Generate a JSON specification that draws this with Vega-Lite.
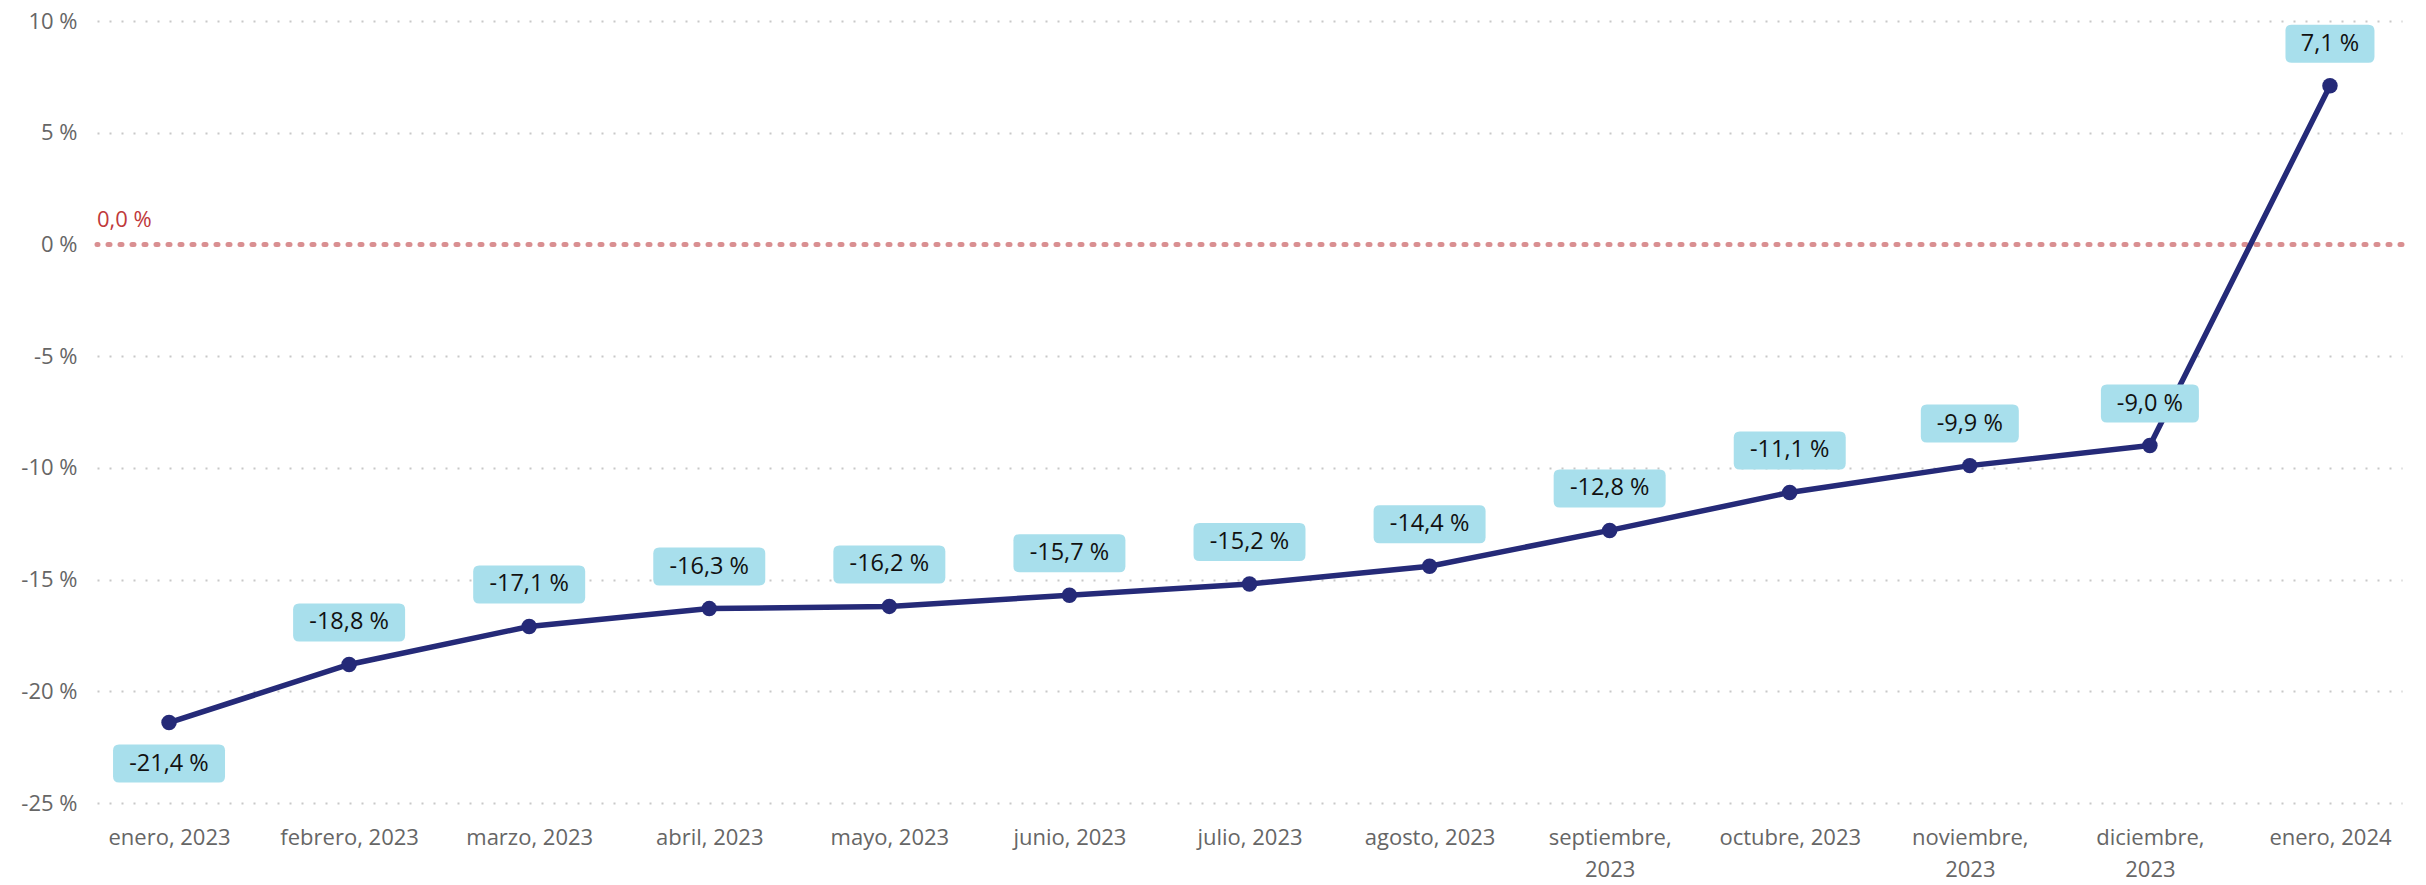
{
  "$schema": "https://vega.github.io/schema/vega-lite/v6.json",
  "autosize": "none",
  "width": 2305,
  "height": 782,
  "padding": {"left": 97, "top": 21, "right": 24, "bottom": 82},
  "background": "white",
  "config": {
    "view": {"stroke": null},
    "font": "Open Sans"
  },
  "data": {
    "values": [
      {"mes": "enero, 2023", "valor": -21.4, "etiqueta": "-21,4 %"},
      {"mes": "febrero, 2023", "valor": -18.8, "etiqueta": "-18,8 %"},
      {"mes": "marzo, 2023", "valor": -17.1, "etiqueta": "-17,1 %"},
      {"mes": "abril, 2023", "valor": -16.3, "etiqueta": "-16,3 %"},
      {"mes": "mayo, 2023", "valor": -16.2, "etiqueta": "-16,2 %"},
      {"mes": "junio, 2023", "valor": -15.7, "etiqueta": "-15,7 %"},
      {"mes": "julio, 2023", "valor": -15.2, "etiqueta": "-15,2 %"},
      {"mes": "agosto, 2023", "valor": -14.4, "etiqueta": "-14,4 %"},
      {"mes": "septiembre, 2023", "valor": -12.8, "etiqueta": "-12,8 %"},
      {"mes": "octubre, 2023", "valor": -11.1, "etiqueta": "-11,1 %"},
      {"mes": "noviembre, 2023", "valor": -9.9, "etiqueta": "-9,9 %"},
      {"mes": "diciembre, 2023", "valor": -9.0, "etiqueta": "-9,0 %"},
      {"mes": "enero, 2024", "valor": 7.1, "etiqueta": "7,1 %"}
    ]
  },
  "encoding": {
    "x": {
      "field": "mes",
      "type": "ordinal",
      "sort": null,
      "scale": {"type": "point", "padding": 0.4},
      "axis": {
        "title": null,
        "domain": false,
        "ticks": false,
        "labelAngle": 0,
        "labelFont": "Open Sans",
        "labelFontSize": 22,
        "labelColor": "#666666",
        "labelPadding": 24,
        "labelLineHeight": 32,
        "labelExpr": "length(datum.label) > 14 ? split(datum.label, ' ') : datum.label"
      }
    },
    "y": {
      "field": "valor",
      "type": "quantitative",
      "scale": {"domain": [-25, 10], "nice": false, "zero": false},
      "axis": {
        "title": null,
        "domain": false,
        "ticks": false,
        "values": [-25, -20, -15, -10, -5, 0, 5, 10],
        "labelExpr": "datum.value + ' %'",
        "labelFont": "Open Sans",
        "labelFontSize": 22,
        "labelColor": "#666666",
        "labelPadding": 20,
        "grid": true,
        "gridColor": "#c8c8c8",
        "gridDash": [2, 10],
        "gridWidth": 2
      }
    }
  },
  "layer": [
    {
      "data": {"values": [{"v": 0, "t": "0,0 %", "m": "enero, 2023"}]},
      "mark": {"type": "rule", "color": "#d98f91", "strokeWidth": 5, "strokeDash": [2, 10], "strokeCap": "round"},
      "encoding": {"y": {"field": "v", "type": "quantitative"}, "x": null}
    },
    {
      "data": {"values": [{"v": 0, "t": "0,0 %", "m": "enero, 2023"}]},
      "mark": {"type": "text", "align": "left", "baseline": "middle", "dx": -72, "dy": -24, "fontSize": 22, "color": "#c0393b", "font": "Open Sans"},
      "encoding": {
        "y": {"field": "v", "type": "quantitative"},
        "x": {"field": "m", "type": "ordinal", "sort": null},
        "text": {"field": "t"}
      }
    },
    {
      "mark": {"type": "line", "color": "#252a78", "strokeWidth": 5.5}
    },
    {
      "mark": {"type": "point", "filled": true, "color": "#252a78", "size": 240, "opacity": 1}
    },
    {
      "mark": {"type": "point", "filled": true, "color": "#a8dfec", "size": 1444, "opacity": 1, "strokeWidth": 0, "yOffset": -42},
      "transform": [{"filter": "datum.mes != 'enero, 2023'"}],
      "encoding": {
        "shape": {
          "condition": [
            {"test": "datum.valor >= 0", "value": "M-2.026,-1L2.026,-1Q2.342,-1 2.342,-0.684L2.342,0.684Q2.342,1 2.026,1L-2.026,1Q-2.342,1 -2.342,0.684L-2.342,-0.684Q-2.342,-1 -2.026,-1Z"},
            {"test": "datum.valor > -10", "value": "M-2.263,-1L2.263,-1Q2.579,-1 2.579,-0.684L2.579,0.684Q2.579,1 2.263,1L-2.263,1Q-2.579,1 -2.579,0.684L-2.579,-0.684Q-2.579,-1 -2.263,-1Z"}
          ],
          "value": "M-2.631,-1L2.631,-1Q2.947,-1 2.947,-0.684L2.947,0.684Q2.947,1 2.631,1L-2.631,1Q-2.947,1 -2.947,0.684L-2.947,-0.684Q-2.947,-1 -2.631,-1Z"
        }
      }
    },
    {
      "mark": {"type": "point", "filled": true, "color": "#a8dfec", "size": 1444, "opacity": 1, "strokeWidth": 0, "yOffset": 41},
      "transform": [{"filter": "datum.mes == 'enero, 2023'"}],
      "encoding": {
        "shape": {"value": "M-2.631,-1L2.631,-1Q2.947,-1 2.947,-0.684L2.947,0.684Q2.947,1 2.631,1L-2.631,1Q-2.947,1 -2.947,0.684L-2.947,-0.684Q-2.947,-1 -2.631,-1Z"}
      }
    },
    {
      "mark": {"type": "text", "fontSize": 23.5, "color": "#111111", "font": "Open Sans", "baseline": "middle", "yOffset": -42},
      "transform": [{"filter": "datum.mes != 'enero, 2023'"}],
      "encoding": {"text": {"field": "etiqueta"}}
    },
    {
      "mark": {"type": "text", "fontSize": 23.5, "color": "#111111", "font": "Open Sans", "baseline": "middle", "yOffset": 41},
      "transform": [{"filter": "datum.mes == 'enero, 2023'"}],
      "encoding": {"text": {"field": "etiqueta"}}
    }
  ]
}
